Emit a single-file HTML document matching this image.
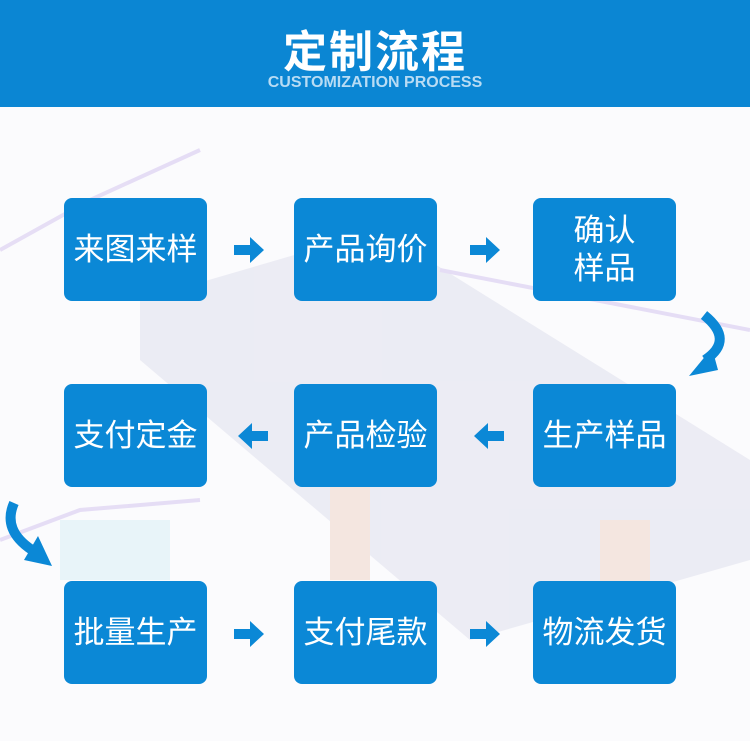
<!DOCTYPE html>
<html><head><meta charset="utf-8"><style>
body{margin:0;width:750px;height:741px;position:relative;background:#fbfbfd;overflow:hidden;font-family:"Liberation Sans","Noto Sans CJK SC",sans-serif}
.hd{position:absolute;left:0;top:0;width:750px;height:107px;background:#0b86d3}
.t1{position:absolute;top:16px;width:750px;text-align:center;color:#fff;font-size:44px;font-weight:bold;letter-spacing:2px}
.t2{position:absolute;top:74px;width:750px;text-align:center;color:#b8dcf4;font-size:16px;font-weight:bold}
.b{position:absolute;width:143px;height:103px;background:#0b88d6;border-radius:8px;color:#fff;font-size:31px;display:flex;align-items:center;justify-content:center;text-align:center;line-height:38px}
svg{position:absolute;left:0;top:0}
</style></head><body>
<svg width="750" height="741">
<g opacity="0.3">
<polygon points="140,300 380,230 750,460 750,560 470,640 140,360" fill="#c9cbe0"/>
<polyline points="0,250 90,200 200,150" stroke="#b69be6" stroke-width="4" fill="none"/>
<polyline points="440,270 750,330" stroke="#b69be6" stroke-width="4" fill="none"/>
<polyline points="0,540 80,510 200,500" stroke="#b69be6" stroke-width="4" fill="none"/>
<rect x="330" y="480" width="40" height="100" fill="#e5b8a0"/>
<rect x="600" y="520" width="50" height="70" fill="#e5b8a0"/>
<rect x="60" y="520" width="110" height="60" fill="#bfe6f2"/>
</g>
<g fill="#0b88d6">
<path d="M234 245h16v-8l14 13-14 13v-8h-16z"/>
<path d="M470 245h16v-8l14 13-14 13v-8h-16z"/>
<path d="M268 431h-16v-8l-14 13 14 13v-8h16z"/>
<path d="M504 431h-16v-8l-14 13 14 13v-8h16z"/>
<path d="M234 629h16v-8l14 13-14 13v-8h-16z"/>
<path d="M470 629h16v-8l14 13-14 13v-8h-16z"/>
</g>
<path d="M704 315 Q735 340 705 360" stroke="#0b88d6" stroke-width="10" fill="none"/>
<polygon points="689,376 712,348 718,370" fill="#0b88d6"/>
<path d="M14 503 Q2 530 32 550" stroke="#0b88d6" stroke-width="10" fill="none"/>
<polygon points="52,566 24,560 38,536" fill="#0b88d6"/>
</svg>
<div class="hd"></div>
<div class="t1">定制流程</div>
<div class="t2">CUSTOMIZATION PROCESS</div>
<div class="b" style="left:64px;top:198px">来图来样</div>
<div class="b" style="left:294px;top:198px">产品询价</div>
<div class="b" style="left:533px;top:198px">确认<br>样品</div>
<div class="b" style="left:64px;top:384px">支付定金</div>
<div class="b" style="left:294px;top:384px">产品检验</div>
<div class="b" style="left:533px;top:384px">生产样品</div>
<div class="b" style="left:64px;top:581px">批量生产</div>
<div class="b" style="left:294px;top:581px">支付尾款</div>
<div class="b" style="left:533px;top:581px">物流发货</div>
</body></html>
